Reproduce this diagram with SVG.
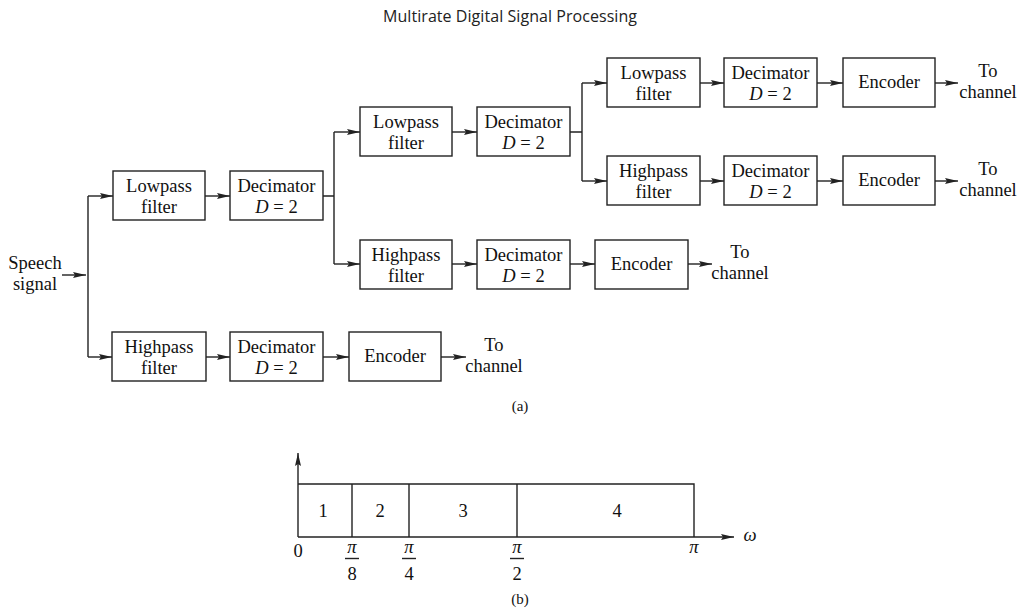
<svg xmlns="http://www.w3.org/2000/svg" width="1019" height="614" viewBox="0 0 1019 614">
<defs>
<marker id="ah" markerUnits="userSpaceOnUse" markerWidth="14" markerHeight="8" refX="13" refY="4" orient="auto">
<path d="M0,1 L13,4 L0,7 L2,4 z" fill="#222"/>
</marker>
<style>
.box{fill:#fff;stroke:#222;stroke-width:1.4}
.t{font-family:"Liberation Serif","Times New Roman",serif;font-size:18.5px;fill:#111;text-anchor:middle}
.ln{fill:none;stroke:#222;stroke-width:1.4}
.ar{fill:none;stroke:#222;stroke-width:1.4;marker-end:url(#ah)}
.it{font-style:italic}
.title{font-family:"Open Sans","Noto Sans",sans-serif;font-size:16px;fill:#222;text-anchor:middle}
</style>
</defs>
<rect width="1019" height="614" fill="#fff"/>
<text class="title" x="510" y="22" textLength="254">Multirate Digital Signal Processing</text>

<g id="connectors">
<path class="ar" d="M62,275 H86"/>
<path class="ln" d="M88,196 V357"/>
<path class="ar" d="M88,196 H113"/>
<path class="ar" d="M88,357 H112"/>
<path class="ar" d="M205,196 H230"/>
<path class="ar" d="M206,357 H230"/>
<path class="ar" d="M323,357 H349"/>
<path class="ar" d="M441,357 H466"/>
<path class="ln" d="M323,196 H334 M334,132 V264"/>
<path class="ar" d="M334,132 H360"/>
<path class="ar" d="M334,264 H360"/>
<path class="ar" d="M452,132 H477"/>
<path class="ar" d="M452,264 H477"/>
<path class="ar" d="M570,264 H595"/>
<path class="ar" d="M688,264 H712"/>
<path class="ln" d="M570,132 H582 M582,83 V181"/>
<path class="ar" d="M582,83 H607"/>
<path class="ar" d="M582,181 H607"/>
<path class="ar" d="M700,83 H724"/>
<path class="ar" d="M700,181 H724"/>
<path class="ar" d="M817,83 H843"/>
<path class="ar" d="M817,181 H843"/>
<path class="ar" d="M935,83 H958"/>
<path class="ar" d="M935,181 H958"/>
</g>

<g id="speech"><text class="t" x="35" y="269">Speech</text><text class="t" x="35" y="290">signal</text></g>

<g id="lp1"><rect class="box" x="113" y="171" width="92" height="49"/><text class="t" x="159" y="192">Lowpass</text><text class="t" x="159" y="213">filter</text></g>
<g id="dec1"><rect class="box" x="230" y="171" width="93" height="49"/><text class="t" x="276.5" y="192">Decimator</text><text class="t" x="276.5" y="213"><tspan class="it">D</tspan> = 2</text></g>

<g id="hp1"><rect class="box" x="112" y="332" width="94" height="49"/><text class="t" x="159" y="353">Highpass</text><text class="t" x="159" y="374">filter</text></g>
<g id="dec1b"><rect class="box" x="230" y="332" width="93" height="49"/><text class="t" x="276.5" y="353">Decimator</text><text class="t" x="276.5" y="374"><tspan class="it">D</tspan> = 2</text></g>
<g id="enc1"><rect class="box" x="349" y="332" width="92" height="49"/><text class="t" x="395" y="362">Encoder</text></g>
<g id="out1"><text class="t" x="494" y="351">To</text><text class="t" x="494" y="372">channel</text></g>

<g id="lp2"><rect class="box" x="360" y="107" width="92" height="49"/><text class="t" x="406" y="128">Lowpass</text><text class="t" x="406" y="149">filter</text></g>
<g id="dec2"><rect class="box" x="477" y="107" width="93" height="49"/><text class="t" x="523.5" y="128">Decimator</text><text class="t" x="523.5" y="149"><tspan class="it">D</tspan> = 2</text></g>

<g id="hp2"><rect class="box" x="360" y="240" width="92" height="49"/><text class="t" x="406" y="261">Highpass</text><text class="t" x="406" y="282">filter</text></g>
<g id="dec2b"><rect class="box" x="477" y="240" width="93" height="49"/><text class="t" x="523.5" y="261">Decimator</text><text class="t" x="523.5" y="282"><tspan class="it">D</tspan> = 2</text></g>
<g id="enc2"><rect class="box" x="595" y="240" width="93" height="49"/><text class="t" x="641.5" y="270">Encoder</text></g>
<g id="out2"><text class="t" x="740" y="258">To</text><text class="t" x="740" y="279">channel</text></g>

<g id="lp3"><rect class="box" x="607" y="58" width="93" height="49"/><text class="t" x="653.5" y="79">Lowpass</text><text class="t" x="653.5" y="100">filter</text></g>
<g id="dec3"><rect class="box" x="724" y="58" width="93" height="49"/><text class="t" x="770.5" y="79">Decimator</text><text class="t" x="770.5" y="100"><tspan class="it">D</tspan> = 2</text></g>
<g id="enc3"><rect class="box" x="843" y="58" width="92" height="49"/><text class="t" x="889" y="88">Encoder</text></g>
<g id="out3"><text class="t" x="988" y="77">To</text><text class="t" x="988" y="98">channel</text></g>

<g id="hp3"><rect class="box" x="607" y="156" width="93" height="49"/><text class="t" x="653.5" y="177">Highpass</text><text class="t" x="653.5" y="198">filter</text></g>
<g id="dec3b"><rect class="box" x="724" y="156" width="93" height="49"/><text class="t" x="770.5" y="177">Decimator</text><text class="t" x="770.5" y="198"><tspan class="it">D</tspan> = 2</text></g>
<g id="enc3b"><rect class="box" x="843" y="156" width="92" height="49"/><text class="t" x="889" y="186">Encoder</text></g>
<g id="out3b"><text class="t" x="988" y="175">To</text><text class="t" x="988" y="196">channel</text></g>

<text class="t" x="520" y="411" style="font-size:15px">(a)</text>

<g id="spectrum">
<path class="ar" d="M298,537 V453"/>
<path class="ar" d="M298,537 H734"/>
<path class="ln" d="M298,484 H694 V537 M352,484 V537 M409,484 V537 M517,484 V537"/>
<text class="t" x="323" y="517">1</text>
<text class="t" x="380" y="517">2</text>
<text class="t" x="463" y="517">3</text>
<text class="t" x="617" y="517">4</text>
<text class="t" x="298" y="557">0</text>
<text class="t it" x="352" y="553">π</text><path class="ln" d="M345,558.5 H359"/><text class="t" x="352" y="580">8</text>
<text class="t it" x="409" y="553">π</text><path class="ln" d="M402,558.5 H416"/><text class="t" x="409" y="580">4</text>
<text class="t it" x="517" y="553">π</text><path class="ln" d="M510,558.5 H524"/><text class="t" x="517" y="580">2</text>
<text class="t it" x="694" y="553">π</text>
<text class="t it" x="750" y="541">ω</text>
</g>
<text class="t" x="520" y="604" style="font-size:15px">(b)</text>
</svg>
